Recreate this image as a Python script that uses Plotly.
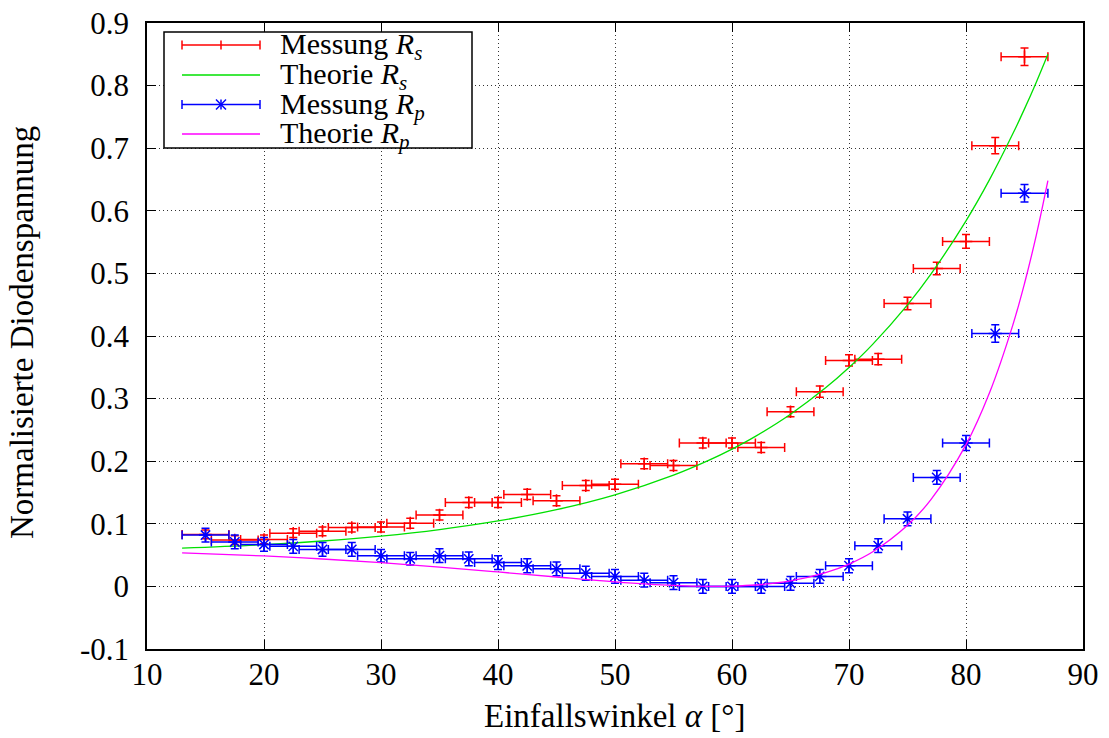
import plotly.graph_objects as go

# ---------------- data ----------------
angles = [15, 17.5, 20, 22.5, 25, 27.5, 30, 32.5, 35, 37.5, 40, 42.5, 45, 47.5, 50,
          52.5, 55, 57.5, 60, 62.5, 65, 67.5, 70, 72.5, 75, 77.5, 80, 82.5, 85]

rs_meas = [0.083, 0.074, 0.075, 0.085, 0.088, 0.094, 0.095, 0.101, 0.114, 0.134, 0.134,
           0.147, 0.137, 0.161, 0.163, 0.196, 0.193, 0.229, 0.229, 0.222, 0.279, 0.311,
           0.361, 0.363, 0.452, 0.508, 0.551, 0.704, 0.846]
rs_err = [0.007, 0.007, 0.007, 0.007, 0.007, 0.007, 0.008, 0.008, 0.008, 0.008, 0.008,
          0.008, 0.008, 0.008, 0.008, 0.008, 0.008, 0.008, 0.008, 0.008, 0.008, 0.009,
          0.009, 0.009, 0.010, 0.010, 0.011, 0.013, 0.014]

rp_meas = [0.082, 0.071, 0.067, 0.064, 0.059, 0.059, 0.049, 0.044, 0.049, 0.044, 0.038,
           0.033, 0.028, 0.021, 0.016, 0.010, 0.006, 0.000, 0.000, 0.000, 0.005, 0.016,
           0.033, 0.065, 0.108, 0.174, 0.229, 0.404, 0.628]
rp_err = [0.011, 0.011, 0.011, 0.011, 0.011, 0.011, 0.010, 0.010, 0.011, 0.011, 0.011,
          0.011, 0.011, 0.011, 0.011, 0.011, 0.011, 0.011, 0.011, 0.011, 0.011, 0.011,
          0.011, 0.011, 0.011, 0.011, 0.012, 0.014, 0.014]

angle_err = 2.0

theo_angles = [13, 20, 25, 30, 35, 40, 45, 50, 55, 58, 60, 62, 65, 68, 70, 72, 75, 77,
               80, 82, 84, 85, 86, 87]
rs_theo = [0.0611, 0.0666, 0.0725, 0.0804, 0.0908, 0.1045, 0.1225, 0.1462, 0.1776,
           0.2012, 0.2193, 0.2397, 0.2751, 0.3172, 0.3497, 0.3863, 0.4498, 0.4988,
           0.5840, 0.6494, 0.7230, 0.7628, 0.8051, 0.8501]
rp_theo = [0.0537, 0.0487, 0.0438, 0.0379, 0.0309, 0.0231, 0.0150, 0.0073, 0.0015,
           0.0000, 0.0004, 0.0022, 0.0088, 0.0219, 0.0357, 0.0550, 0.0977, 0.1386,
           0.2264, 0.3088, 0.4174, 0.4839, 0.5604, 0.6482]

x_ticks = [10, 20, 30, 40, 50, 60, 70, 80, 90]
y_ticks = [-0.1, 0, 0.1, 0.2, 0.3, 0.4, 0.5, 0.6, 0.7, 0.8, 0.9]
y_ticktext = ["-0.1", "0", "0.1", "0.2", "0.3", "0.4", "0.5", "0.6", "0.7", "0.8", "0.9"]

legend_labels = ["Messung <i>R<sub>s</sub></i>", "Theorie <i>R<sub>s</sub></i>",
                 "Messung <i>R<sub>p</sub></i>", "Theorie <i>R<sub>p</sub></i>"]

# ---------------- styles / layout ----------------
RED = "#ff0000"
GREEN = "#00e000"
BLUE = "#0000ff"
MAGENTA = "#ff00ff"
FONT = "Liberation Serif"

W_PX, H_PX = 1109, 738
L, T, R, B = 147, 23, 1083, 649
PW, PH = R - L, B - T


def px(xp):
    return (xp - L) / PW


def py(yp):
    return (B - yp) / PH


fig = go.Figure()

fig.add_trace(go.Scatter(
    x=angles, y=rs_meas, mode="markers", name="Messung Rs",
    marker=dict(symbol="cross-thin-open", size=9, color=RED, line=dict(color=RED, width=1.5)),
    error_x=dict(type="constant", value=angle_err, color=RED, thickness=1.5, width=4.5),
    error_y=dict(type="data", array=rs_err, color=RED, thickness=1.5, width=4),
    showlegend=False))

fig.add_trace(go.Scatter(
    x=theo_angles, y=rs_theo, mode="lines", name="Theorie Rs",
    line=dict(color=GREEN, width=1.3, shape="spline"), showlegend=False))

fig.add_trace(go.Scatter(
    x=angles, y=rp_meas, mode="markers", name="Messung Rp",
    marker=dict(symbol="asterisk-open", size=11, color=BLUE, line=dict(color=BLUE, width=1.5)),
    error_x=dict(type="constant", value=angle_err, color=BLUE, thickness=1.5, width=4.5),
    error_y=dict(type="data", array=rp_err, color=BLUE, thickness=1.5, width=4),
    showlegend=False))

fig.add_trace(go.Scatter(
    x=theo_angles, y=rp_theo, mode="lines", name="Theorie Rp",
    line=dict(color=MAGENTA, width=1.3, shape="spline"), showlegend=False))

axis_common = dict(
    showline=True, linecolor="black", linewidth=1.6, mirror="allticks",
    ticks="inside", ticklen=9, tickwidth=1.4, tickcolor="black",
    showgrid=True, gridcolor="#333333", gridwidth=1, griddash="1px,3px",
    zeroline=False, automargin=False,
    tickfont=dict(family=FONT, size=31, color="black"),
)

fig.update_xaxes(range=[10, 90], tickvals=x_ticks, ticklabelstandoff=-3, **axis_common)
fig.update_yaxes(range=[-0.1, 0.9], tickvals=y_ticks, ticktext=y_ticktext,
                 ticklabelstandoff=10, **axis_common)

shapes = []
annotations = []

# legend box
shapes.append(dict(type="rect", xref="paper", yref="paper",
                   x0=px(164), x1=px(472), y0=py(148), y1=py(32),
                   line=dict(color="black", width=1.5), fillcolor="white", layer="above"))

rows = [45, 75, 104.5, 134]
colors = [RED, GREEN, BLUE, MAGENTA]
sx0, sx1, smid = 182, 260, 221
for i, (ry, c) in enumerate(zip(rows, colors)):
    shapes.append(dict(type="line", xref="paper", yref="paper",
                       x0=px(sx0), x1=px(sx1), y0=py(ry), y1=py(ry),
                       line=dict(color=c, width=1.5), layer="above"))
    if i in (0, 2):
        for cx in (sx0, sx1):
            shapes.append(dict(type="line", xref="paper", yref="paper",
                               x0=px(cx), x1=px(cx), y0=py(ry - 4.5), y1=py(ry + 4.5),
                               line=dict(color=c, width=1.5), layer="above"))
    if i == 0:
        shapes.append(dict(type="line", xref="paper", yref="paper",
                           x0=px(smid), x1=px(smid), y0=py(ry - 4.5), y1=py(ry + 4.5),
                           line=dict(color=c, width=1.5), layer="above"))
    if i == 2:
        for (ax0, ay0, ax1, ay1) in [(0, -5, 0, 5), (-5, -5, 5, 5), (-5, 5, 5, -5)]:
            shapes.append(dict(type="line", xref="paper", yref="paper",
                               x0=px(smid + ax0), x1=px(smid + ax1),
                               y0=py(ry + ay0), y1=py(ry + ay1),
                               line=dict(color=c, width=1.5), layer="above"))
    annotations.append(dict(text=legend_labels[i], xref="paper", yref="paper",
                            x=px(278), y=py(ry + 1), xanchor="left", yanchor="middle",
                            showarrow=False, font=dict(family=FONT, size=30, color="black")))

# axis titles
annotations.append(dict(text="Einfallswinkel <i>α</i> [°]", xref="paper", yref="paper",
                        x=px(614), y=py(716), xanchor="center", yanchor="middle",
                        showarrow=False, font=dict(family=FONT, size=33, color="black")))
annotations.append(dict(text="Normalisierte Diodenspannung", xref="paper", yref="paper",
                        x=px(22), y=py(333), xanchor="center", yanchor="middle",
                        textangle=-90, showarrow=False,
                        font=dict(family=FONT, size=33, color="black")))

fig.update_layout(
    width=W_PX, height=H_PX,
    margin=dict(l=L, r=W_PX - R, t=T, b=H_PX - B, pad=0),
    paper_bgcolor="white", plot_bgcolor="white",
    showlegend=False,
    shapes=shapes, annotations=annotations,
    font=dict(family=FONT, color="black"),
)

fig.write_html("out.html", config={"displayModeBar": False},
               post_script="document.body.style.margin='0';document.body.style.padding='0';")
